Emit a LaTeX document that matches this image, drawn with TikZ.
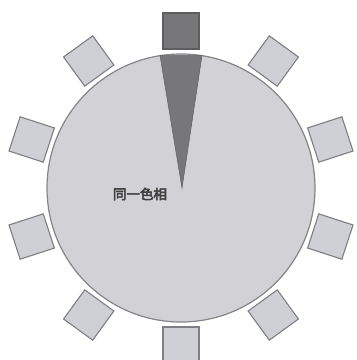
\documentclass[tikz,border=0pt]{standalone}
\usepackage{fontspec}
\usetikzlibrary{calc}
\newfontfamily\cjk[FakeBold=4]{Noto Sans CJK SC}
\definecolor{circfill}{HTML}{D2D2D6}
\definecolor{circline}{HTML}{858589}
\definecolor{sqfill}{HTML}{CFCFD6}
\definecolor{sqline}{HTML}{7E7E84}
\definecolor{dark}{HTML}{777779}
\definecolor{darkline}{HTML}{5E5E60}
\tikzset{
  sq/.style={draw=sqline, fill=sqfill, line width=1.1pt, minimum size=36pt, inner sep=0pt, shape=rectangle},
  sqdark/.style={sq, fill=dark, draw=darkline},
}
\begin{document}
\begin{tikzpicture}[x=1pt,y=-1pt]
\useasboundingbox (0,0) rectangle (357,360);
\clip (0,0) rectangle (357,360);
\coordinate (C) at (181,188);
\node[circle, draw=circline, fill=circfill, line width=1.2pt, minimum size=268pt, inner sep=0pt] (disk) at (C) {};
\fill[dark, draw=darkline, line width=0.5pt] (182,188) -- ($(C)+(-81:134)$) -- ($(C)+(-99:134)$) -- cycle;
\foreach \a [count=\i] in {90,54,18,-18,-54,-90,-126,-162,162,126}{
  \ifnum\i=1
    \node[sqdark, rotate=\a-90] (s\i) at ($(C)+(-\a:157)$) {};
  \else
    \node[sq, rotate=\a-90] (s\i) at ($(C)+(-\a:157)$) {};
  \fi
}
\node[font=\cjk\fontsize{13.5}{13.5}\selectfont, text=black!75, inner sep=0pt] (lbl) at (140,194) {同一色相};
\end{tikzpicture}
\end{document}
